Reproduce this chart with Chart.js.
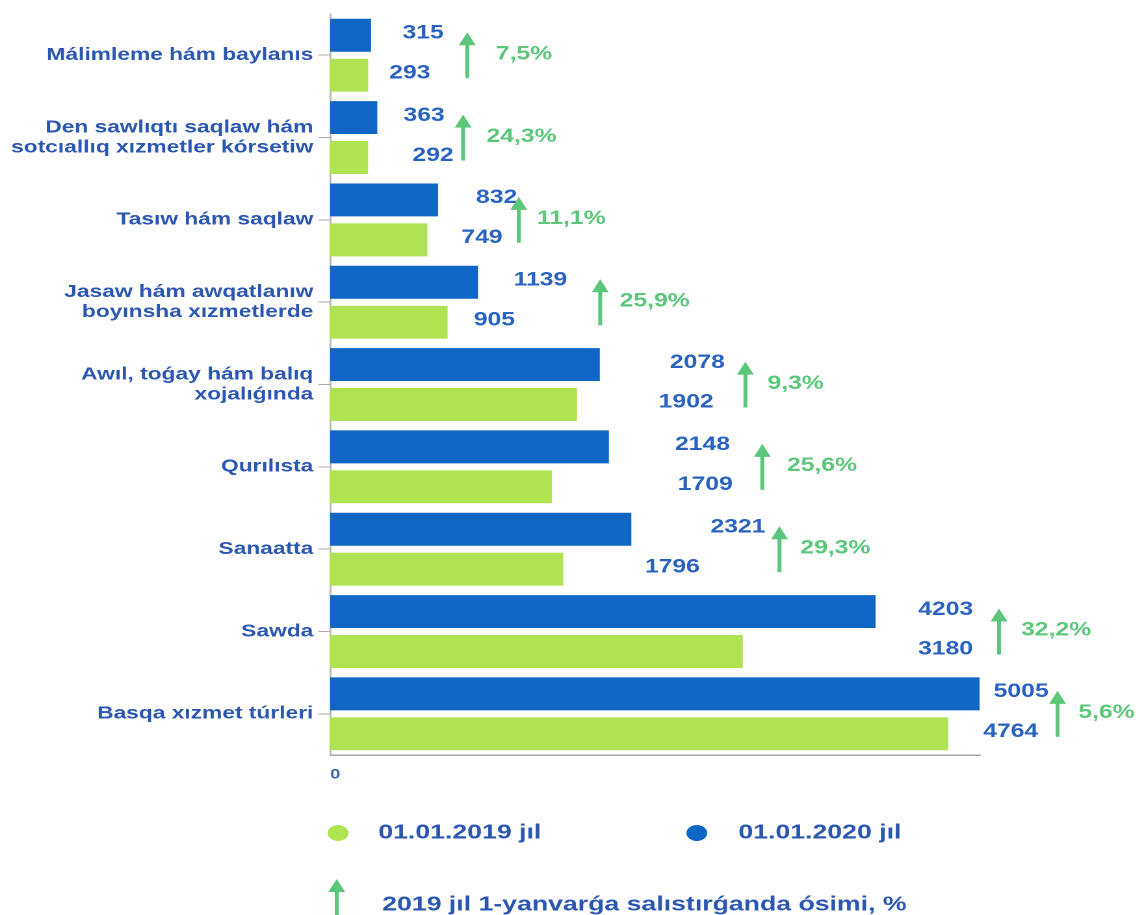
<!DOCTYPE html>
<html>
<head>
<meta charset="utf-8">
<script src="https://cdn.jsdelivr.net/npm/chart.js@4"></script>
<style>
  html, body { margin: 0; padding: 0; background: #fff; overflow: hidden; }
  /* the original picture is stretched sideways, so the chart is drawn narrow and widened */
  #wrap { width: 874px; height: 915px; transform: scaleX(1.3); transform-origin: 0 0; }
</style>
</head>
<body>
<div id="wrap"><canvas id="barChart"></canvas></div>
<script>
const categories = [
    ["Málimleme hám baylanıs"],
    ["Den sawlıqtı saqlaw hám", "sotcıallıq xızmetler kórsetiw"],
    ["Tasıw hám saqlaw"],
    ["Jasaw hám awqatlanıw", "boyınsha xızmetlerde"],
    ["Awıl, toǵay hám balıq", "xojalıǵında"],
    ["Qurılısta"],
    ["Sanaatta"],
    ["Sawda"],
    ["Basqa xızmet túrleri"]
];
const values2020 = [315, 363, 832, 1139, 2078, 2148, 2321, 4203, 5005];
const values2019 = [293, 292, 749, 905, 1902, 1709, 1796, 3180, 4764];
const growth = ["7,5%", "24,3%", "11,1%", "25,9%", "9,3%", "25,6%", "29,3%", "32,2%", "5,6%"];
const legendLabels = ["01.01.2019 jıl", "01.01.2020 jıl", "2019 jıl 1-yanvarǵa salıstırǵanda ósimi, %"];

// where the notes sit, in px to the right of the bar ends (as in the picture)
const blueLabelDx = [40, 36, 45, 48, 75, 72, 82, 54, 32];
const greenLabelDx = [32, 50, 42, 36, 84, 118, 84, 156, 48];
const arrowDx = [74, 66, 62, 94, 112, 118, 114, 95, 60];
const growthDx = [22, 18, 14, 15, 17, 19, 16, 17, 16];

const BLUE = '#0f66c4';
const GREEN = '#b0e352';
const TEXT_BLUE = '#2b57b3';
const NUM_BLUE = '#2a62c2';
const ARROW_GREEN = '#5cc77a';
const FONT = '"Liberation Sans", Arial, sans-serif';

function drawArrow(ctx, x, yTop, yBottom) {
    ctx.save();
    ctx.strokeStyle = ARROW_GREEN;
    ctx.fillStyle = ARROW_GREEN;
    ctx.lineWidth = 3;
    ctx.beginPath();
    ctx.moveTo(x, yBottom);
    ctx.lineTo(x, yTop + 10);
    ctx.stroke();
    ctx.beginPath();
    ctx.moveTo(x, yTop);
    ctx.lineTo(x - 6.5, yTop + 13);
    ctx.lineTo(x + 6.5, yTop + 13);
    ctx.closePath();
    ctx.fill();
    ctx.restore();
}

const notesPlugin = {
    id: 'notes',
    afterDatasetsDraw(chart) {
        const ctx = chart.ctx;
        const ys = chart.scales.y;
        const blueBars = chart.getDatasetMeta(0).data;
        const greenBars = chart.getDatasetMeta(1).data;
        ctx.save();
        ctx.textBaseline = 'middle';
        for (let i = 0; i < categories.length; i++) {
            const b = blueBars[i], g = greenBars[i];
            ctx.font = 'bold 19px ' + FONT;
            ctx.fillStyle = NUM_BLUE;
            ctx.textAlign = 'center';
            ctx.fillText(values2020[i], b.x + blueLabelDx[i], b.y - 2);
            ctx.fillText(values2019[i], g.x + greenLabelDx[i], g.y - 2);
            const ax = b.x + arrowDx[i];
            drawArrow(ctx, ax, b.y - 3, g.y + 3);
            ctx.fillStyle = ARROW_GREEN;
            ctx.textAlign = 'left';
            ctx.fillText(growth[i], ax + growthDx[i], ys.getPixelForValue(i) - 1);
        }
        ctx.restore();
    },
    afterDraw(chart) {
        const ctx = chart.ctx;
        ctx.save();
        ctx.textBaseline = 'middle';
        ctx.textAlign = 'left';
        ctx.font = 'bold 20.5px ' + FONT;
        // legend: two series
        ctx.fillStyle = GREEN;
        ctx.beginPath(); ctx.arc(260, 833, 8, 0, Math.PI * 2); ctx.fill();
        ctx.fillStyle = TEXT_BLUE;
        ctx.fillText(legendLabels[0], 291, 833);
        ctx.fillStyle = BLUE;
        ctx.beginPath(); ctx.arc(536, 833, 8, 0, Math.PI * 2); ctx.fill();
        ctx.fillStyle = TEXT_BLUE;
        ctx.fillText(legendLabels[1], 568, 833);
        // legend: growth arrow
        drawArrow(ctx, 259, 879, 920);
        ctx.fillStyle = TEXT_BLUE;
        ctx.fillText(legendLabels[2], 294, 905);
        ctx.restore();
    }
};

const ctx = document.getElementById('barChart').getContext('2d');
const chart = new Chart(ctx, {
    type: 'bar',
    data: {
        labels: categories,
        datasets: [
            { label: legendLabels[1], data: values2020, backgroundColor: BLUE },
            { label: legendLabels[0], data: values2019, backgroundColor: GREEN }
        ]
    },
    options: {
        indexAxis: 'y',
        responsive: true,
        maintainAspectRatio: false,
        animation: false,
        devicePixelRatio: 2,
        categoryPercentage: 0.97,
        barPercentage: 0.825,
        layout: { padding: { top: 14, right: 120, bottom: 0, left: 0 } },
        plugins: {
            legend: { display: false },
            tooltip: { enabled: false }
        },
        scales: {
            x: {
                min: 0,
                max: 5010,
                afterBuildTicks: s => { s.ticks = [{ value: 0 }]; },
                afterFit: s => { s.height = 160; },
                grid: { display: false },
                border: { display: true, color: '#a8a8a8', width: 1.5 },
                ticks: { align: 'start', padding: 3, color: '#3b5ea6', font: { family: FONT, size: 14, weight: 'bold' } }
            },
            y: {
                afterFit: s => { s.width = 254; },
                grid: { display: true, drawOnChartArea: false, offset: false, tickLength: 9, color: '#aaaaaa' },
                border: { display: true, color: '#b8b8b8', width: 1.5 },
                ticks: {
                    padding: 4,
                    color: TEXT_BLUE,
                    font: { family: FONT, size: 17.5, weight: 'bold', lineHeight: 1.15 }
                }
            }
        }
    },
    plugins: [notesPlugin]
});
</script>
</body>
</html>
